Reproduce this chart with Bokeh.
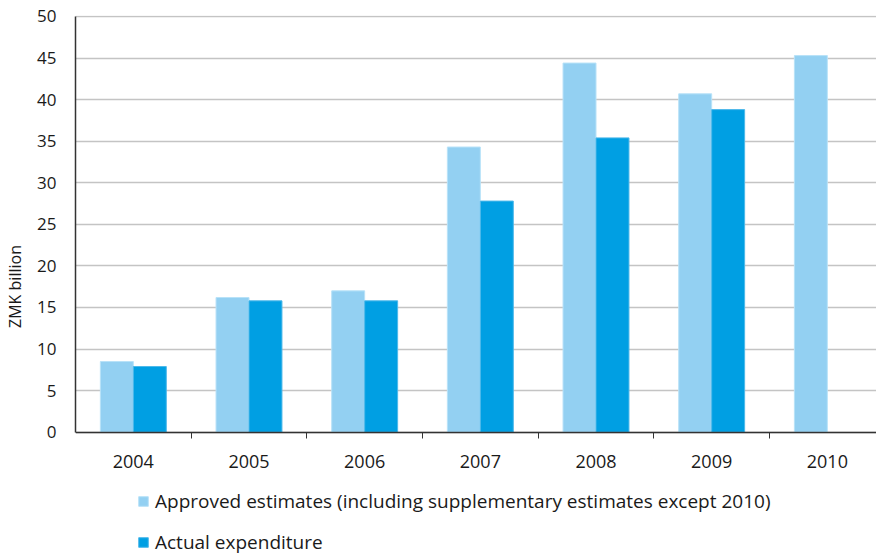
from bokeh.plotting import figure
from bokeh.models import ColumnDataSource, FixedTicker, Legend, LegendItem, Range1d
from bokeh.transform import dodge
from bokeh.embed import file_html
from bokeh.resources import INLINE

# Budget figures, ZMK billion
years = ["2004", "2005", "2006", "2007", "2008", "2009", "2010"]
approved = [8.5, 16.2, 17.0, 34.3, 44.4, 40.7, 45.3]
actual = [7.9, 15.8, 15.8, 27.8, 35.4, 38.8, None]
y_ticks = [0, 5, 10, 15, 20, 25, 30, 35, 40, 45, 50]

FONT = "Open Sans"
TEXT = "#1a1a1a"

pos = [i + 0.5 for i in range(len(years))]
src_app = ColumnDataSource(dict(x=pos, top=approved))
have = [i for i, v in enumerate(actual) if v is not None]
src_act = ColumnDataSource(dict(x=[pos[i] for i in have], top=[actual[i] for i in have]))

# the frame runs to the bottom edge so the legend can sit beneath the x axis,
# which is pinned at y = 0
p = figure(width=876, height=557, output_backend="svg", toolbar_location=None,
           x_range=Range1d(0, 6.925), y_range=Range1d(-15.07, 50.12),
           min_border_left=75, min_border_right=0, min_border_top=15,
           min_border_bottom=0)

bw = 0.285
r_app = p.vbar(x=dodge("x", -bw / 2), top="top", width=bw, source=src_app,
               fill_color="#93d0f2", line_color="#b8e2f8", line_width=1)
r_act = p.vbar(x=dodge("x", bw / 2), top="top", width=bw, source=src_act,
               fill_color="#009fe3", line_color="#4db8ea", line_width=1)

# x axis: year labels at group centres, short tick marks between groups
p.xaxis.fixed_location = 0
p.xaxis.ticker = FixedTicker(ticks=pos, minor_ticks=[1, 2, 3, 4, 5, 6])
p.xaxis.major_label_overrides = {x: y for x, y in zip(pos, years)}
p.xaxis.major_tick_out = 0
p.xaxis.major_tick_in = 0
p.xaxis.minor_tick_out = 6
p.xaxis.minor_tick_in = 0
p.xaxis.minor_tick_line_color = "#333333"
p.xaxis.axis_line_color = "#333333"
p.xaxis.axis_line_width = 1.5
p.xaxis.major_label_standoff = 17
p.xaxis.major_label_text_font = FONT
p.xaxis.major_label_text_font_size = "18px"
p.xaxis.major_label_text_color = TEXT

p.yaxis.bounds = (0, 50)
p.yaxis.ticker = FixedTicker(ticks=y_ticks)
p.yaxis.major_tick_out = 0
p.yaxis.major_tick_in = 0
p.yaxis.minor_tick_line_color = None
p.yaxis.axis_line_color = "#333333"
p.yaxis.axis_line_width = 1.5
p.yaxis.major_label_standoff = 19
p.yaxis.major_label_text_font = FONT
p.yaxis.major_label_text_font_size = "17px"
p.yaxis.major_label_text_color = TEXT
p.yaxis.axis_label = "ZMK billion"
p.yaxis.axis_label_text_font = FONT
p.yaxis.axis_label_text_font_size = "16px"
p.yaxis.axis_label_text_font_style = "normal"
p.yaxis.axis_label_text_color = TEXT
p.yaxis.axis_label_standoff = 8

p.xgrid.grid_line_color = None
p.ygrid.ticker = FixedTicker(ticks=y_ticks)
p.ygrid.grid_line_color = "#c4c4c4"
p.ygrid.grid_line_width = 1.5
p.outline_line_color = None

legend = Legend(items=[
    LegendItem(label="Approved estimates (including supplementary estimates except 2010)",
               renderers=[r_app]),
    LegendItem(label="Actual expenditure", renderers=[r_act]),
], location=(62, 2), orientation="vertical", glyph_width=12, glyph_height=12,
    label_text_font=FONT, label_text_font_size="19px", label_text_color=TEXT,
    label_height=26, label_standoff=6, spacing=15, padding=0, margin=0,
    border_line_color=None, background_fill_alpha=0)
p.add_layout(legend)

open("out.html", "w").write(file_html(p, INLINE))
